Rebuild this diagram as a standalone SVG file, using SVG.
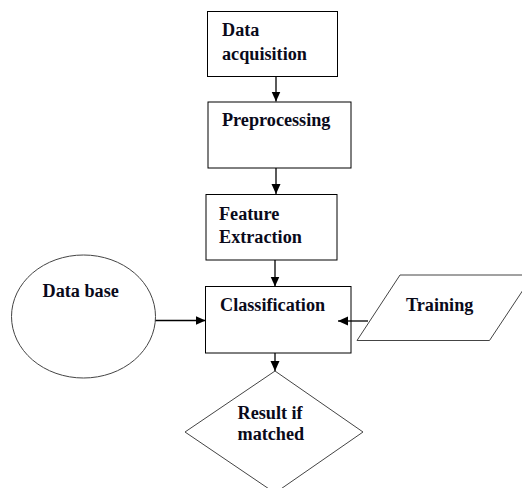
<svg xmlns="http://www.w3.org/2000/svg" width="522" height="488" viewBox="0 0 522 488">
<defs>
<style>
.box{fill:#fff;stroke:#000;stroke-width:1}
.shape{fill:#fff;stroke:#444;stroke-width:1}
.lbl{font-family:"Liberation Serif","Times New Roman",serif;font-weight:bold;font-size:18.2px;fill:#0a0a1a}
.edge{stroke:#000;stroke-width:1.3;fill:none;marker-end:url(#arr)}
</style>
<marker id="arr" markerUnits="userSpaceOnUse" markerWidth="11" markerHeight="10" refX="10" refY="4.5" orient="auto">
<path d="M0,0 L10,4.5 L0,9 z" fill="#000"/>
</marker>
</defs>
<rect width="522" height="488" fill="#fff"/>
<g id="data-acquisition">
<rect class="box" x="207.5" y="11.5" width="130" height="65"/>
<text class="lbl" x="222" y="36">Data</text>
<text class="lbl" x="222" y="60">acquisition</text>
</g>
<g id="preprocessing">
<rect class="box" x="208" y="102" width="143" height="66"/>
<text class="lbl" x="222" y="126">Preprocessing</text>
</g>
<g id="feature-extraction">
<rect class="box" x="206" y="194.5" width="131" height="65.5"/>
<text class="lbl" x="219" y="220">Feature</text>
<text class="lbl" x="219" y="243">Extraction</text>
</g>
<g id="classification">
<rect class="box" x="205.5" y="286.5" width="145.5" height="66.5"/>
<text class="lbl" x="220" y="310.5">Classification</text>
</g>
<g id="database">
<ellipse class="shape" cx="83.5" cy="316.5" rx="72" ry="61.5"/>
<text class="lbl" x="42.5" y="296.5">Data base</text>
</g>
<g id="training">
<polygon class="shape" points="400,275 533,275 489.5,340.5 357,340.5"/>
<text class="lbl" x="406" y="310.5">Training</text>
</g>
<g id="result">
<polygon class="shape" points="275,371 363,432 275,493 185,432"/>
<text class="lbl" x="237.5" y="418.5">Result if</text>
<text class="lbl" x="237.5" y="440">matched</text>
</g>
<g id="connectors">
<line class="edge" x1="276" y1="76" x2="276" y2="101.5"/>
<line class="edge" x1="276" y1="168" x2="276" y2="194"/>
<line class="edge" x1="275" y1="260" x2="275" y2="286.5"/>
<line class="edge" x1="155.5" y1="320.5" x2="205.5" y2="320.5"/>
<line class="edge" x1="368" y1="321" x2="338" y2="321"/>
<line class="edge" x1="275" y1="353" x2="275" y2="371"/>
</g>
</svg>
